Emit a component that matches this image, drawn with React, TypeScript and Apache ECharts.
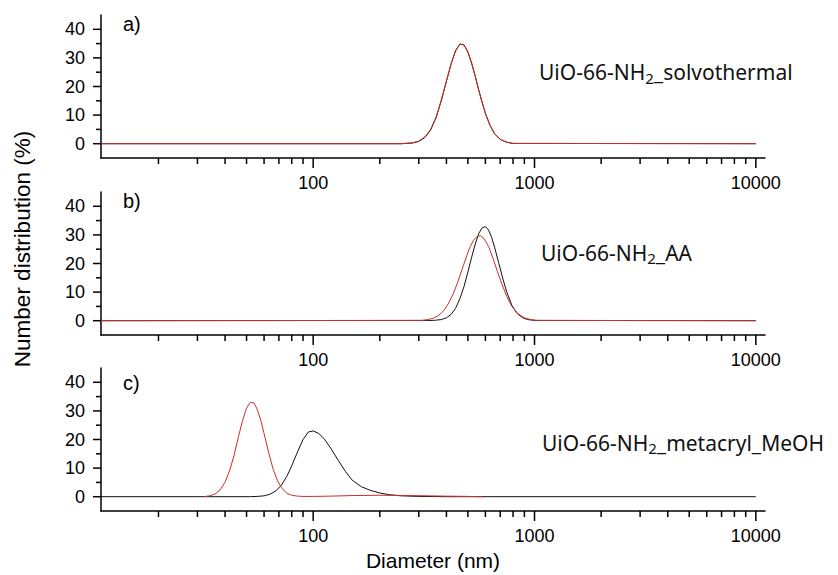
import React, { useEffect, useRef } from 'react';
import * as echarts from 'echarts';

// ---- axis settings ----
const X_MIN = 11;
const X_MAX = 11000;
const Y_MIN = -5;
const Y_MAX = 45;
const xMajorTicks = [100, 1000, 10000];
const xMinorTicks = [20, 30, 40, 50, 60, 70, 80, 90, 200, 300, 400, 500, 600, 700, 800, 900, 2000, 3000, 4000, 5000, 6000, 7000, 8000, 9000];
const yMajorTicks = [0, 10, 20, 30, 40];
const yMinorTicks = [5, 15, 25, 35];

const panelLetters = ['a)', 'b)', 'c)'];
const sampleSuffix = ['solvothermal', 'AA', 'metacryl_MeOH'];

// ---- panel a: UiO-66-NH2_solvothermal ----
const aDiam = [11, 250, 280, 300, 320, 340, 360, 380, 400, 420, 440, 460, 480, 500, 520, 540, 560, 580, 600, 630, 660, 700, 750, 800, 10000];
const aBlack = [0, 0, 0.2, 0.8, 2.2, 4.9, 9.3, 15.3, 21.8, 27.9, 32.5, 34.8, 34.6, 32.1, 28.2, 23.6, 18.8, 14.5, 10.6, 6.4, 3.5, 1.5, 0.5, 0.1, 0];
const aRed = [0, 0, 0.3, 0.9, 2.4, 5.1, 9.5, 15.5, 22.0, 28.0, 32.6, 34.9, 34.5, 32.0, 28.0, 23.4, 18.6, 14.3, 10.5, 6.3, 3.4, 1.5, 0.5, 0.1, 0];

// ---- panel b: UiO-66-NH2_AA ----
const bBlackDiam = [11, 350, 380, 400, 420, 440, 460, 480, 500, 520, 540, 560, 580, 600, 620, 640, 660, 690, 720, 750, 790, 830, 880, 930, 1000, 10000];
const bBlack = [0, 0.1, 0.4, 1.0, 2.2, 4.3, 7.7, 11.9, 17.0, 22.2, 26.8, 30.5, 32.5, 32.9, 31.7, 29.2, 25.7, 20.0, 14.6, 9.9, 5.4, 2.7, 1.1, 0.4, 0.1, 0];
const bRedDiam = [11, 310, 330, 350, 370, 390, 410, 430, 450, 470, 490, 510, 530, 550, 570, 590, 620, 650, 680, 710, 750, 790, 840, 900, 960, 1030, 10000];
const bRed = [0, 0.1, 0.4, 0.9, 1.9, 3.6, 6.2, 9.5, 13.5, 17.8, 21.9, 25.6, 28.1, 29.5, 29.7, 28.8, 26.0, 21.7, 17.2, 13.1, 8.4, 5.0, 2.5, 1.0, 0.4, 0.1, 0];

// ---- panel c: UiO-66-NH2_metacryl_MeOH ----
const cBlackDiam = [11, 52, 56, 60, 64, 68, 72, 76, 80, 85, 90, 95, 100, 106, 112, 120, 130, 140, 150, 165, 180, 200, 220, 250, 300, 400, 10000];
const cBlack = [0, 0, 0.1, 0.3, 0.9, 2.1, 4.1, 7.1, 10.8, 15.7, 20.0, 22.6, 23.0, 22.1, 20.3, 17.0, 12.6, 8.8, 5.8, 3.5, 2.3, 1.3, 0.7, 0.3, 0.1, 0, 0];
const cRedDiam = [32, 34, 36, 38, 40, 42, 44, 46, 48, 50, 52, 54, 56, 58, 60, 63, 66, 69, 72, 76, 80, 85, 90, 100, 120, 150, 200, 250, 300, 400, 500, 580];
const cRed = [0, 0.3, 0.9, 2.4, 5.1, 9.3, 14.7, 21.1, 26.7, 31.0, 33.0, 32.8, 30.4, 26.7, 22.1, 15.3, 9.5, 5.6, 3.1, 1.2, 0.5, 0.2, 0.1, 0.1, 0.2, 0.4, 0.5, 0.45, 0.35, 0.2, 0.1, 0];

const panels = [
  { black: [aDiam, aBlack], red: [aDiam, aRed] },
  { black: [bBlackDiam, bBlack], red: [bRedDiam, bRed] },
  { black: [cBlackDiam, cBlack], red: [cRedDiam, cRed] },
];

// ---- layout ----
const GRID_LEFT = 101;
const GRID_WIDTH = 664;
const GRID_TOPS = [15, 192, 368];
const GRID_HEIGHT = 143;
const LETTER_Y = [23.5, 200.5, 382.5];
const NAME_POS = [[539, 72], [541, 252.5], [542, 442.5]];

const BLACK = '#111111';
const RED = '#cc2e2e';
const AXIS_FONT = 'Liberation Sans';
const LABEL_FONT = 'Noto Sans';

const zip = (xs: number[], ys: number[]) => xs.map((x, i) => [x, ys[i]]);

export default function App() {
  const ref = useRef<HTMLDivElement>(null);

  useEffect(() => {
    if (!ref.current) return;
    const chart = echarts.init(ref.current, undefined, { renderer: 'svg' });

    const tickData = [
      ...xMajorTicks.map((v) => [v, Y_MIN, 0]),
      ...xMinorTicks.map((v) => [v, Y_MIN, 1]),
      ...yMajorTicks.map((v) => [X_MIN, v, 2]),
      ...yMinorTicks.map((v) => [X_MIN, v, 3]),
    ];

    const grids: any[] = [];
    const xAxes: any[] = [];
    const yAxes: any[] = [];
    const series: any[] = [];
    const graphics: any[] = [];

    GRID_TOPS.forEach((top, i) => {
      grids.push({ left: GRID_LEFT, top, width: GRID_WIDTH, height: GRID_HEIGHT, containLabel: false });
      xAxes.push({
        type: 'log',
        logBase: 10,
        gridIndex: i,
        min: X_MIN,
        max: X_MAX,
        axisLine: { show: true, onZero: false, lineStyle: { color: '#000', width: 1.5 } },
        axisTick: { show: false },
        splitLine: { show: false },
        axisLabel: {
          color: '#000',
          fontSize: 18,
          fontFamily: AXIS_FONT,
          margin: 16,
          formatter: (v: number) => {
            const r = Math.round(v);
            return xMajorTicks.includes(r) ? String(r) : '';
          },
        },
      });
      yAxes.push({
        type: 'value',
        gridIndex: i,
        min: Y_MIN,
        max: Y_MAX,
        interval: 5,
        axisLine: { show: true, lineStyle: { color: '#000', width: 1.5 } },
        axisTick: { show: false },
        splitLine: { show: false },
        axisLabel: {
          color: '#000',
          fontSize: 18,
          fontFamily: AXIS_FONT,
          margin: 16,
          formatter: (v: number) => (yMajorTicks.includes(v) ? String(v) : ''),
        },
      });

      series.push({
        type: 'line',
        xAxisIndex: i,
        yAxisIndex: i,
        data: zip(panels[i].black[0], panels[i].black[1]),
        showSymbol: false,
        symbol: 'none',
        lineStyle: { color: BLACK, width: 1 },
        itemStyle: { color: BLACK },
        silent: true,
        z: 2,
      });
      series.push({
        type: 'line',
        xAxisIndex: i,
        yAxisIndex: i,
        data: zip(panels[i].red[0], panels[i].red[1]),
        showSymbol: false,
        symbol: 'none',
        lineStyle: { color: RED, width: 1 },
        itemStyle: { color: RED },
        silent: true,
        z: 3,
      });
      series.push({
        type: 'custom',
        xAxisIndex: i,
        yAxisIndex: i,
        data: tickData,
        encode: { x: 0, y: 1 },
        clip: false,
        silent: true,
        z: 4,
        renderItem: (params: any, api: any) => {
          const kind = api.value(2);
          const p = api.coord([api.value(0), api.value(1)]);
          let x2 = p[0];
          let y2 = p[1];
          if (kind === 0) y2 += 10;
          else if (kind === 1) y2 += 6;
          else if (kind === 2) x2 -= 8;
          else x2 -= 5;
          return {
            type: 'line',
            shape: { x1: p[0], y1: p[1], x2, y2 },
            style: { stroke: '#000', lineWidth: 1.5 },
          };
        },
      });

      graphics.push({
        type: 'text',
        x: 123,
        y: LETTER_Y[i],
        style: {
          text: panelLetters[i],
          fill: '#000',
          fontSize: 20,
          fontFamily: AXIS_FONT,
          align: 'left',
          verticalAlign: 'middle',
        },
      });
      graphics.push({
        type: 'text',
        x: NAME_POS[i][0],
        y: NAME_POS[i][1],
        style: {
          text: `UiO-66-NH{sub|2}_${sampleSuffix[i]}`,
          fill: '#111',
          fontSize: 21,
          fontFamily: LABEL_FONT,
          lineHeight: 26,
          align: 'left',
          verticalAlign: 'middle',
          rich: {
            sub: { fontSize: 15, lineHeight: 15, verticalAlign: 'bottom', fontFamily: LABEL_FONT, fill: '#111' },
          },
        },
      });
    });

    graphics.push({
      type: 'text',
      x: 22,
      y: 249,
      rotation: Math.PI / 2,
      style: {
        text: 'Number distribution (%)',
        fill: '#000',
        fontSize: 22.5,
        fontFamily: AXIS_FONT,
        align: 'center',
        verticalAlign: 'middle',
      },
    });
    graphics.push({
      type: 'text',
      x: 433,
      y: 560,
      style: {
        text: 'Diameter (nm)',
        fill: '#000',
        fontSize: 21,
        fontFamily: AXIS_FONT,
        align: 'center',
        verticalAlign: 'middle',
      },
    });

    chart.setOption({
      animation: false,
      backgroundColor: '#fff',
      grid: grids,
      xAxis: xAxes,
      yAxis: yAxes,
      series,
      graphic: graphics,
    });

    return () => chart.dispose();
  }, []);

  return (
    <div
      ref={ref}
      style={{ position: 'fixed', left: 0, top: 0, width: 838, height: 575 }}
    />
  );
}
